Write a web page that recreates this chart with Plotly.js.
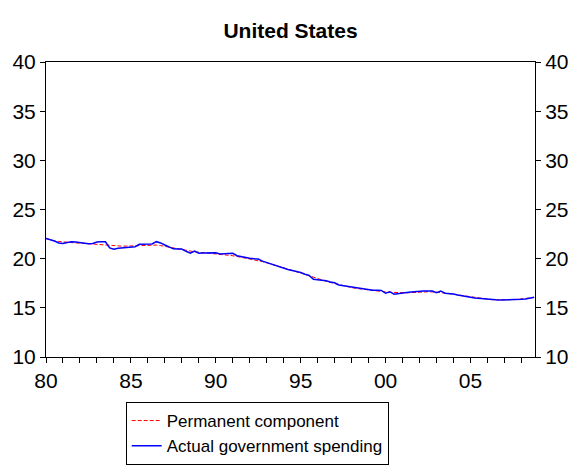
<!DOCTYPE html>
<html>
<head>
<meta charset="utf-8">
<script src="https://cdn.plot.ly/plotly-3.0.1.min.js"></script>
<style>html,body{margin:0;padding:0;background:#fff;}</style>
</head>
<body>
<div id="chart" style="width:575px;height:468px;"></div>
<script>
// Quarterly data, 1980Q1 - 2008Q4 (government spending, % of GDP)
const startYear = 1980;
const actualSpending = [
  22.05, 21.95, 21.80, 21.60,  // 1980
  21.55, 21.65, 21.72, 21.70,  // 1981
  21.65, 21.60, 21.52, 21.55,  // 1982
  21.70, 21.73, 21.72, 21.10,  // 1983
  20.95, 21.05, 21.08, 21.12,  // 1984
  21.15, 21.22, 21.46, 21.45,  // 1985
  21.46, 21.50, 21.73, 21.60,  // 1986
  21.39, 21.20, 21.00, 20.98,  // 1987
  20.98, 20.75, 20.55, 20.78,  // 1988
  20.55, 20.58, 20.60, 20.58,  // 1989
  20.60, 20.48, 20.50, 20.55,  // 1990
  20.55, 20.30, 20.20, 20.10,  // 1991
  20.05, 20.00, 19.97, 19.75,  // 1992
  19.60, 19.46, 19.36, 19.20,  // 1993
  19.02, 18.90, 18.80, 18.72,  // 1994
  18.60, 18.41, 18.30, 17.90,  // 1995
  17.85, 17.83, 17.75, 17.62,  // 1996
  17.55, 17.32, 17.25, 17.15,  // 1997
  17.15, 17.05, 16.95, 16.90,  // 1998
  16.85, 16.80, 16.79, 16.77,  // 1999
  16.48, 16.64, 16.38, 16.45,  // 2000
  16.54, 16.55, 16.60, 16.65,  // 2001
  16.68, 16.72, 16.70, 16.71,  // 2002
  16.54, 16.71, 16.48, 16.45,  // 2003
  16.41, 16.30, 16.20, 16.15,  // 2004
  16.07, 16.00, 15.95, 15.90,  // 2005
  15.90, 15.85, 15.82, 15.80,  // 2006
  15.80, 15.82, 15.83, 15.85,  // 2007
  15.87, 15.90, 15.98, 16.07   // 2008
];
const permanentComponent = [
  22.05, 21.90, 21.80, 21.75,
  21.70, 21.68, 21.65, 21.60,
  21.58, 21.55, 21.50, 21.45,
  21.42, 21.40, 21.35, 21.30,
  21.28, 21.27, 21.27, 21.28,
  21.30, 21.33, 21.36, 21.38,
  21.40, 21.40, 21.38, 21.33,
  21.25, 21.15, 21.05, 20.95,
  20.88, 20.80, 20.74, 20.70,
  20.66, 20.62, 20.58, 20.55,
  20.52, 20.48, 20.44, 20.38,
  20.30, 20.22, 20.14, 20.06,
  19.98, 19.90, 19.80, 19.70,
  19.58, 19.46, 19.33, 19.20,
  19.07, 18.94, 18.80, 18.67,
  18.54, 18.40, 18.25, 18.10,
  17.95, 17.82, 17.70, 17.58,
  17.46, 17.35, 17.25, 17.15,
  17.06, 16.98, 16.92, 16.86,
  16.80, 16.75, 16.70, 16.66,
  16.62, 16.58, 16.55, 16.53,
  16.52, 16.53, 16.55, 16.58,
  16.60, 16.62, 16.63, 16.62,
  16.60, 16.56, 16.50, 16.44,
  16.38, 16.30, 16.22, 16.15,
  16.08, 16.01, 15.95, 15.90,
  15.86, 15.83, 15.81, 15.80,
  15.80, 15.81, 15.83, 15.86,
  15.90, 15.95, 16.00, 16.05
];
const tickYears = [];
const tickLabels = [];
for (let y = 1980; y <= 2008; y++) {
  tickYears.push(y);
  tickLabels.push(y % 5 === 0 ? String(y).slice(2) : "");
}
const yTicks = [10, 15, 20, 25, 30, 35, 40];

const xq = actualSpending.map((_, i) => startYear + i / 4);

const font = "Liberation Sans, Arial, sans-serif";

const traces = [
  {
    x: xq, y: permanentComponent, type: "scatter", mode: "lines",
    name: "Permanent component",
    line: {color: "#FF0000", width: 1, dash: "4px,2px"}
  },
  {
    x: xq, y: actualSpending, type: "scatter", mode: "lines",
    name: "Actual government spending",
    line: {color: "#0000FF", width: 1.5}
  },
  {
    x: xq, y: actualSpending, type: "scatter", mode: "lines",
    yaxis: "y2", showlegend: false, hoverinfo: "skip",
    line: {color: "rgba(0,0,0,0)", width: 0}
  }
];

const layout = {
  width: 575, height: 468,
  margin: {l: 46, r: 40, t: 62, b: 111, autoexpand: false},
  paper_bgcolor: "#fff", plot_bgcolor: "#fff",
  font: {family: font, color: "#000", size: 21},
  title: {text: "<b>United States</b>", x: 0.5, xref: "paper", y: 0.95, yref: "container",
          font: {family: font, size: 21, color: "#000"}},
  showlegend: true,
  legend: {
    x: 0.163, y: -0.1525, xanchor: "left", yanchor: "top",
    bordercolor: "#000", borderwidth: 1, bgcolor: "#fff",
    font: {family: font, size: 17, color: "#000"},
    tracegroupgap: 0, itemwidth: 30
  },
  xaxis: {
    range: [1980, 2008.8], tickmode: "array", tickvals: tickYears, ticktext: tickLabels,
    ticks: "outside", ticklen: 5, tickcolor: "#000", tickwidth: 1,
    showline: true, linecolor: "#000", linewidth: 1, mirror: true,
    showgrid: false, zeroline: false,
    tickfont: {family: font, size: 21, color: "#000"}
  },
  yaxis: {
    range: [10, 40], tickmode: "array", tickvals: yTicks,
    ticks: "outside", ticklen: 5, tickcolor: "#000",
    showline: true, linecolor: "#000", linewidth: 1,
    showgrid: false, zeroline: false,
    tickfont: {family: font, size: 21, color: "#000"}
  },
  yaxis2: {
    range: [10, 40], tickmode: "array", tickvals: yTicks,
    overlaying: "y", side: "right",
    ticks: "outside", ticklen: 5, tickcolor: "#000",
    showline: true, linecolor: "#000", linewidth: 1,
    showgrid: false, zeroline: false,
    tickfont: {family: font, size: 21, color: "#000"}
  }
};

Plotly.newPlot("chart", traces, layout, {displayModeBar: false, staticPlot: true});
</script>
</body>
</html>
